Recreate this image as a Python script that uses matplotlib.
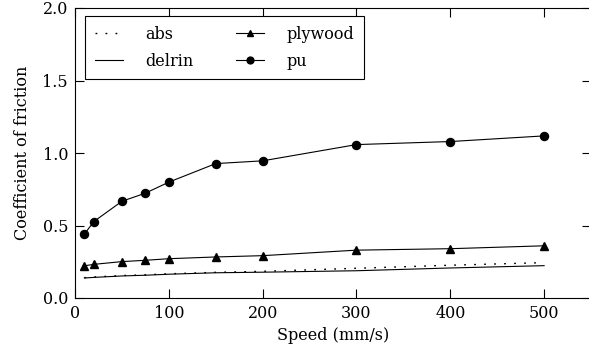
import matplotlib
matplotlib.use("Agg")
import matplotlib.pyplot as plt
from matplotlib.ticker import FormatStrFormatter

speed = [10, 20, 50, 75, 100, 150, 200, 300, 400, 500]
abs_cof = [0.140, 0.145, 0.155, 0.160, 0.167, 0.177, 0.184, 0.205, 0.226, 0.244]
delrin_cof = [0.138, 0.142, 0.152, 0.157, 0.164, 0.174, 0.178, 0.188, 0.207, 0.223]
plywood_cof = [0.222, 0.232, 0.251, 0.260, 0.271, 0.283, 0.292, 0.330, 0.340, 0.360]
pu_cof = [0.440, 0.527, 0.667, 0.723, 0.799, 0.927, 0.946, 1.058, 1.079, 1.118]

xticks = [0, 100, 200, 300, 400, 500]
yticks = [0.0, 0.5, 1.0, 1.5, 2.0]

plt.rcParams['font.family'] = ['DejaVu Serif']
plt.rcParams['font.size'] = 11.5

W, H = 589, 362
fig = plt.figure(figsize=(W / 100, H / 100), dpi=100)
ax = fig.add_axes([75 / W, 1 - 298 / H, 516 / W, 290 / H])

ax.plot(speed, abs_cof, color='black', lw=1.0, dashes=(1.3, 5.9), label='abs')
ax.plot(speed, delrin_cof, color='black', lw=0.8, label='delrin')
ax.plot(speed, plywood_cof, color='black', lw=0.8, marker='^', ms=5.8, label='plywood')
ax.plot(speed, pu_cof, color='black', lw=0.8, marker='o', ms=5.8, label='pu')

ax.set_xlim(0, 550)
ax.set_ylim(0, 2.0)
ax.set_xticks(xticks)
ax.set_yticks(yticks)
ax.yaxis.set_major_formatter(FormatStrFormatter('%.1f'))
ax.tick_params(direction='in', length=6.7, width=0.8, top=True, right=True, pad=5)
for s in ax.spines.values():
    s.set_linewidth(0.8)

ax.set_xlabel('Speed (mm/s)', labelpad=4)
ax.set_ylabel('Coefficient of friction', labelpad=8)

leg = ax.legend(ncol=2, loc='upper left', bbox_to_anchor=(10 / 516, 1 - 8.4 / 290),
                borderaxespad=0, fancybox=False, framealpha=1, edgecolor='black',
                handlelength=1.75, handletextpad=1.4, columnspacing=2.7,
                borderpad=0.6, labelspacing=0.6, markerscale=0.85)
leg.get_frame().set_linewidth(0.8)

fig.savefig('out.png', dpi=100)
